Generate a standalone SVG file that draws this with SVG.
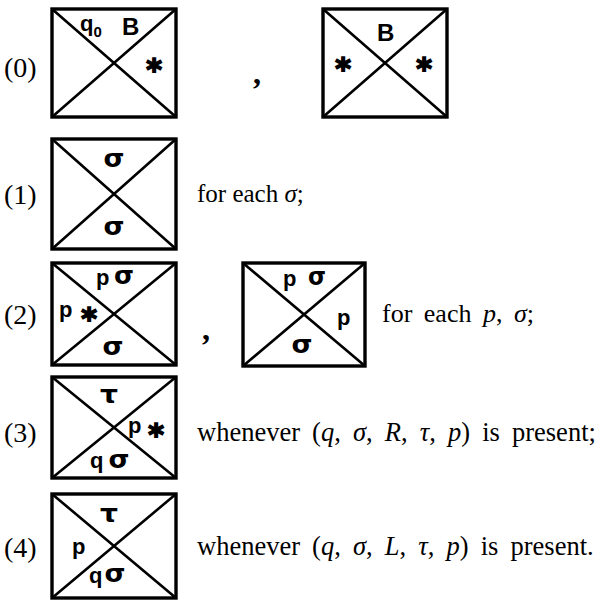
<svg xmlns="http://www.w3.org/2000/svg" width="598" height="600" viewBox="0 0 598 600">
<style>
.box{fill:none;stroke:#000;stroke-width:3.4}
.diag{stroke:#000;stroke-width:2.6;fill:none}
.lbl{font-family:"Liberation Sans","DejaVu Sans",sans-serif;font-weight:bold;font-size:22px;fill:#000}
.big{font-size:24px}
.gr{font-family:"DejaVu Sans",sans-serif;font-weight:bold;font-size:24px;fill:#000;text-anchor:middle}
.ast{font-family:"DejaVu Sans",sans-serif;font-weight:bold;font-size:30px;fill:#000;stroke:#000;stroke-width:1.6;text-anchor:middle}
.sub{font-size:15px}
.num{font-family:"Liberation Serif","Times New Roman",serif;font-size:28px;fill:#000}
.txt{font-family:"Liberation Serif","Times New Roman",serif;font-size:26px;fill:#000}
.ws{word-spacing:5px}
.wl{font-size:26.5px;word-spacing:5.5px}
.it{font-style:italic}
.cm{font-family:"Liberation Serif",serif;font-weight:bold;font-size:32px;fill:#000}
</style>
<rect width="598" height="600" fill="#fff"/>

<g id="label-0"><text class="num" x="4" y="77">(0)</text></g>
<g id="tile-0a">
<rect class="box" x="52" y="9" width="124" height="108"/>
<path class="diag" d="M52 9L176 117M176 9L52 117"/>
<text class="lbl" x="80" y="31">q<tspan class="sub" dy="6">0</tspan></text>
<text class="lbl big" x="122" y="35">B</text>
<text class="ast" x="154" y="80">*</text>
</g>
<text class="cm" x="253" y="84">,</text>
<g id="tile-0b">
<rect class="box" x="323" y="9" width="124" height="108"/>
<path class="diag" d="M323 9L447 117M447 9L323 117"/>
<text class="lbl big" x="377" y="41">B</text>
<text class="ast" x="343" y="79">*</text>
<text class="ast" x="424" y="79">*</text>
</g>

<g id="label-1"><text class="num" x="4" y="204">(1)</text></g>
<g id="tile-1">
<rect class="box" x="52" y="139" width="124" height="110"/>
<path class="diag" d="M52 139L176 249M176 139L52 249"/>
<text class="gr" x="114" y="167" textLength="21" lengthAdjust="spacingAndGlyphs">σ</text>
<text class="gr" x="114" y="235" textLength="21" lengthAdjust="spacingAndGlyphs">σ</text>
</g>
<text class="txt" x="197" y="202" style="font-size:25px">for each <tspan class="it">σ</tspan>;</text>

<g id="label-2"><text class="num" x="4" y="324">(2)</text></g>
<g id="tile-2a">
<rect class="box" x="52" y="263" width="124" height="102"/>
<path class="diag" d="M52 263L176 365M176 263L52 365"/>
<text class="lbl" x="96" y="285">p</text>
<text class="gr" x="124" y="284" textLength="20" lengthAdjust="spacingAndGlyphs">σ</text>
<text class="lbl" x="59" y="317">p</text>
<text class="ast" x="89" y="329">*</text>
<text class="gr" x="113" y="355" textLength="21" lengthAdjust="spacingAndGlyphs">σ</text>
</g>
<text class="cm" x="202" y="340">,</text>
<g id="tile-2b">
<rect class="box" x="243" y="263" width="122" height="103"/>
<path class="diag" d="M243 263L365 366M365 263L243 366"/>
<text class="lbl" x="283" y="286">p</text>
<text class="gr" x="317" y="285" textLength="18" lengthAdjust="spacingAndGlyphs">σ</text>
<text class="lbl" x="337" y="325">p</text>
<text class="gr" x="302" y="353" textLength="21" lengthAdjust="spacingAndGlyphs">σ</text>
</g>
<text class="txt ws" x="382" y="322">for each <tspan class="it">p</tspan>, <tspan class="it">σ</tspan>;</text>

<g id="label-3"><text class="num" x="4" y="442">(3)</text></g>
<g id="tile-3">
<rect class="box" x="52" y="377" width="124" height="101"/>
<path class="diag" d="M52 377L176 478M176 377L52 478"/>
<text class="gr" x="109" y="403" textLength="18" lengthAdjust="spacingAndGlyphs">τ</text>
<text class="lbl" x="128" y="433">p</text>
<text class="ast" x="156" y="445">*</text>
<text class="lbl" x="90" y="468">q</text>
<text class="gr" x="119" y="468" textLength="21" lengthAdjust="spacingAndGlyphs">σ</text>
</g>
<text class="txt wl" x="197" y="441">whenever (<tspan class="it">q</tspan>, <tspan class="it">σ</tspan>, <tspan class="it">R</tspan>, <tspan class="it">τ</tspan>, <tspan class="it">p</tspan>) is present;</text>

<g id="label-4"><text class="num" x="4" y="557">(4)</text></g>
<g id="tile-4">
<rect class="box" x="52" y="494" width="124" height="104"/>
<path class="diag" d="M52 494L176 598M176 494L52 598"/>
<text class="gr" x="109" y="522" textLength="18" lengthAdjust="spacingAndGlyphs">τ</text>
<text class="lbl" x="72" y="554">p</text>
<text class="lbl" x="89" y="583">q</text>
<text class="gr" x="115" y="582" textLength="21" lengthAdjust="spacingAndGlyphs">σ</text>
</g>
<text class="txt wl" x="197" y="555">whenever (<tspan class="it">q</tspan>, <tspan class="it">σ</tspan>, <tspan class="it">L</tspan>, <tspan class="it">τ</tspan>, <tspan class="it">p</tspan>) is present.</text>
</svg>
